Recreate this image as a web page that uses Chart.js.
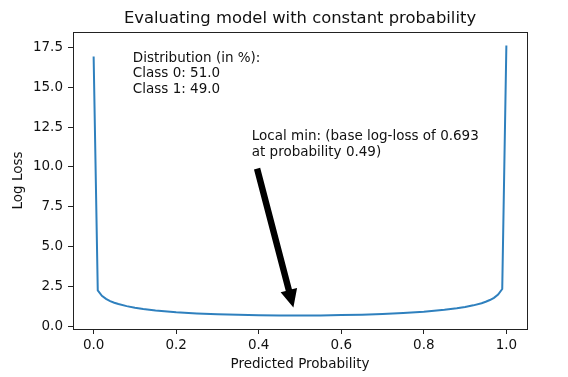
<!DOCTYPE html>
<html>
<head>
<meta charset="utf-8">
<script src="https://cdn.jsdelivr.net/npm/chart.js@4"></script>
<style>
  html, body { margin: 0; padding: 0; background: #fff; }
  #wrap { width: 568px; height: 377px; }
</style>
</head>
<body>
<div id="wrap"><canvas id="lossChart" width="568" height="377"></canvas></div>
<script>
// Predicted probability (x) and log loss (y)
const probs = [0, 0.01, 0.02, 0.03, 0.04, 0.05, 0.06, 0.08, 0.1, 0.12, 0.15, 0.2, 0.25, 0.3,
    0.35, 0.4, 0.45, 0.49, 0.55, 0.6, 0.65, 0.7, 0.75, 0.8, 0.85, 0.88, 0.9, 0.92, 0.94,
    0.95, 0.96, 0.97, 0.98, 0.99, 1.0];
const losses = [16.92, 2.262, 1.927, 1.734, 1.598, 1.494, 1.410, 1.280, 1.182, 1.104, 1.013,
    0.902, 0.826, 0.772, 0.734, 0.710, 0.696, 0.693, 0.700, 0.718, 0.746, 0.789, 0.848,
    0.930, 1.047, 1.144, 1.226, 1.329, 1.465, 1.553, 1.662, 1.803, 2.005, 2.354, 17.61];

const xTicks = [0, 0.2, 0.4, 0.6, 0.8, 1.0];
const yTicks = [0, 2.5, 5, 7.5, 10, 12.5, 15, 17.5];

const distLines = ['Distribution (in %):', 'Class 0: 51.0', 'Class 1: 49.0'];
const distAt = [0.095, 16.6];
const minLines = ['Local min: (base log-loss of 0.693', 'at probability 0.49)'];
const minAt = [0.383, 11.69];
const arrowFrom = [0.396, 9.9];
const arrowTo = [0.484, 1.19];

const FONT = "'DejaVu Sans', sans-serif";
const INK = '#111';
const FS = 13.5;

const annotations = {
    id: 'annotations',
    afterDraw(chart) {
        const { ctx, chartArea: a, scales: { x, y } } = chart;
        ctx.save();
        // axes frame
        ctx.strokeStyle = '#222';
        ctx.lineWidth = 1;
        ctx.strokeRect(Math.round(a.left) + 0.5, Math.round(a.top) + 0.5,
            Math.round(a.right - a.left), Math.round(a.bottom - a.top));

        ctx.fillStyle = INK;
        ctx.font = FS + 'px ' + FONT;
        ctx.textAlign = 'left';
        ctx.textBaseline = 'alphabetic';
        distLines.forEach((t, i) => {
            ctx.fillText(t, x.getPixelForValue(distAt[0]), y.getPixelForValue(distAt[1]) + i * 15.5);
        });
        minLines.forEach((t, i) => {
            ctx.fillText(t, x.getPixelForValue(minAt[0]), y.getPixelForValue(minAt[1]) + i * 15.5);
        });

        // arrow
        const x0 = x.getPixelForValue(arrowFrom[0]), y0 = y.getPixelForValue(arrowFrom[1]);
        const x1 = x.getPixelForValue(arrowTo[0]), y1 = y.getPixelForValue(arrowTo[1]);
        const len = Math.hypot(x1 - x0, y1 - y0);
        const ux = (x1 - x0) / len, uy = (y1 - y0) / len;
        const px = -uy, py = ux;
        const sw = 3.2, hw = 8.5, hl = 18;
        const bx = x1 - ux * hl, by = y1 - uy * hl;
        ctx.fillStyle = '#000';
        ctx.beginPath();
        ctx.moveTo(x0 + px * sw, y0 + py * sw);
        ctx.lineTo(bx + px * sw, by + py * sw);
        ctx.lineTo(bx + px * hw, by + py * hw);
        ctx.lineTo(x1, y1);
        ctx.lineTo(bx - px * hw, by - py * hw);
        ctx.lineTo(bx - px * sw, by - py * sw);
        ctx.lineTo(x0 - px * sw, y0 - py * sw);
        ctx.closePath();
        ctx.fill();
        ctx.restore();
    }
};

Chart.defaults.font.family = FONT;
Chart.defaults.color = INK;

new Chart(document.getElementById('lossChart').getContext('2d'), {
    type: 'line',
    data: {
        datasets: [{
            data: probs.map((p, i) => ({ x: p, y: losses[i] })),
            borderColor: '#2f80be',
            borderWidth: 2,
            pointRadius: 0,
            tension: 0,
            fill: false
        }]
    },
    options: {
        responsive: false,
        animation: false,
        layout: { padding: { left: 0, right: 41, top: 0, bottom: 0 } },
        plugins: {
            legend: { display: false },
            tooltip: { enabled: false },
            title: {
                display: true,
                text: 'Evaluating model with constant probability',
                fullSize: false,
                color: INK,
                font: { size: 16.4, weight: 'normal' },
                padding: { top: 9.2, bottom: 3.1 }
            }
        },
        scales: {
            x: {
                type: 'linear',
                min: -0.05,
                max: 1.05,
                afterFit: s => { s.height = 48; },
                afterBuildTicks: s => { s.ticks = xTicks.map(v => ({ value: v })); },
                grid: { drawOnChartArea: false, drawTicks: true, tickLength: 5, tickColor: '#222' },
                border: { display: false },
                ticks: {
                    padding: 3,
                    maxRotation: 0,
                    font: { size: FS },
                    callback: v => Number(v).toFixed(1)
                },
                title: {
                    display: true,
                    text: 'Predicted Probability',
                    font: { size: FS },
                    padding: { top: 0, bottom: 4.8 }
                }
            },
            y: {
                type: 'linear',
                min: -0.153,
                max: 18.46,
                afterFit: s => { s.width = 73; },
                afterBuildTicks: s => { s.ticks = yTicks.map(v => ({ value: v })); },
                grid: { drawOnChartArea: false, drawTicks: true, tickLength: 5, tickColor: '#222' },
                border: { display: false },
                ticks: {
                    padding: 5,
                    font: { size: FS },
                    callback: v => Number(v).toFixed(1)
                },
                title: {
                    display: true,
                    text: 'Log Loss',
                    font: { size: FS },
                    padding: { top: 10, bottom: 0 }
                }
            }
        }
    },
    plugins: [annotations]
});
</script>
</body>
</html>
